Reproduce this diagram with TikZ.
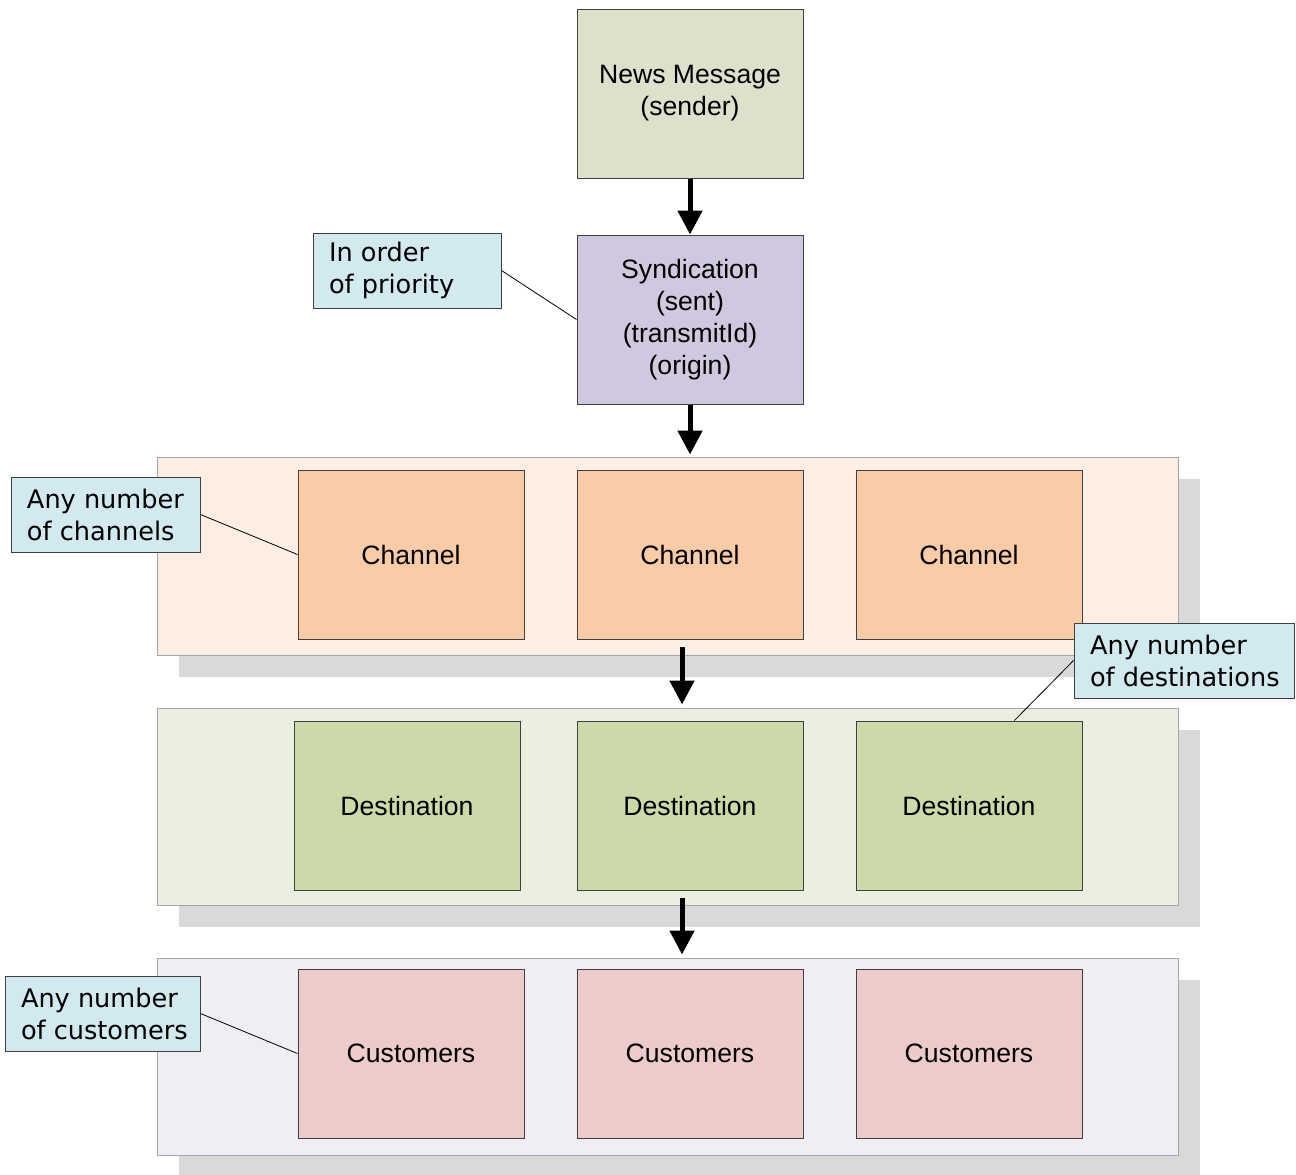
\documentclass[tikz,border=0pt]{standalone}
\usepackage{fontspec}
\setmainfont{Liberation Sans}
\newfontfamily\notefont{DejaVu Sans}
\usetikzlibrary{arrows.meta,calc}

\definecolor{newsfill}{HTML}{DDE0CA}
\definecolor{syndfill}{HTML}{D0C8DE}
\definecolor{chanband}{HTML}{FDEEE3}
\definecolor{chanfill}{HTML}{F9CBA7}
\definecolor{destband}{HTML}{EBEFDF}
\definecolor{destfill}{HTML}{CCDAA9}
\definecolor{custband}{HTML}{F0EEF4}
\definecolor{custfill}{HTML}{ECCBCA}
\definecolor{shadowgray}{HTML}{D9D9D9}
\definecolor{bandline}{HTML}{A6A6A6}
\definecolor{boxline}{HTML}{404040}
\definecolor{notefill}{HTML}{D2E9EF}

\begin{document}
\begin{tikzpicture}[x=1pt,y=-1pt,
  box/.style={draw=boxline, line width=1pt, minimum width=226pt, minimum height=169pt,
    inner sep=0pt, align=center, font=\fontsize{26.6}{32}\selectfont},
  band/.style={draw=bandline, line width=1pt, minimum width=1021pt, minimum height=198pt, inner sep=0pt},
  shadowrect/.style={fill=shadowgray, draw=none},
  note/.style={draw=boxline, fill=notefill, line width=1pt, minimum height=75pt,
    inner xsep=16pt, inner ysep=0pt, align=flush left,
    font=\notefont\fontsize{25.6}{32}\selectfont},
  flow/.style={line width=5pt, -{Triangle[width=24pt,length=24pt]}},
  callout/.style={line width=0.8pt, draw=black}
]
\useasboundingbox (0,0) rectangle (1296,1175);
\fill[white] (0,0) rectangle (1296,1175);

% layer bands with their drop shadows
\fill[shadowrect] (179,479) rectangle (1200,677);
\node[band, fill=chanband] (b1) at (667.5,556) {};
\fill[shadowrect] (179,730) rectangle (1200,927);
\node[band, fill=destband, minimum height=197pt] (b2) at (667.5,806.5) {};
\fill[shadowrect] (179,980) rectangle (1200,1175);
\node[band, fill=custband, minimum height=197pt] (b3) at (667.5,1056.5) {};

% message source and syndication
\node[box, fill=newsfill] (news) at (690,93.5) {News Message\\(sender)};
\node[box, fill=syndfill] (synd) at (690,319.5) {Syndication\\(sent)\\(transmitId)\\(origin)};

% channels
\node[box, fill=chanfill] (ch1) at (411,554.5) {Channel};
\node[box, fill=chanfill] (ch2) at (690,554.5) {Channel};
\node[box, fill=chanfill] (ch3) at (969,554.5) {Channel};

% destinations
\node[box, fill=destfill] (de1) at (407,805.5) {Destination};
\node[box, fill=destfill] (de2) at (690,805.5) {Destination};
\node[box, fill=destfill] (de3) at (969,805.5) {Destination};

% customers
\node[box, fill=custfill] (cu1) at (411,1053.5) {Customers};
\node[box, fill=custfill] (cu2) at (690,1053.5) {Customers};
\node[box, fill=custfill] (cu3) at (969,1053.5) {Customers};

% flow arrows
\coordinate (s3) at (682,647);
\coordinate (s4) at (682,898);
\draw[flow] (news.south) -- (synd.north);
\draw[flow, shorten >=2pt] (synd.south) -- (synd.south |- b1.north);
\draw[flow, shorten >=3pt] (s3) -- (s3 |- b2.north);
\draw[flow, shorten >=3pt] (s4) -- (s4 |- b3.north);

% callout notes
\node[note, text width=156pt] (prio) at (407,270.5) {\mbox{In order}\\\mbox{of priority}};
\node[note, text width=157pt] (chn) at (105.5,514.5) {\mbox{Any number}\\\mbox{of channels}};
\node[note, text width=188pt] (dst) at (1184,660.5) {\mbox{Any number}\\\mbox{of destinations}};
\node[note, text width=163pt] (cst) at (102.5,1013.5) {\mbox{Any number}\\\mbox{of customers}};

\coordinate (de3tip) at ($(de3.north west)!0.7!(de3.north east)$);
\draw[callout] (prio.east) -- (synd.west);
\draw[callout] (chn.east) -- (ch1.west);
\draw[callout] (dst.west) -- (de3tip);
\draw[callout] (cst.east) -- (cu1.west);
\end{tikzpicture}
\end{document}
